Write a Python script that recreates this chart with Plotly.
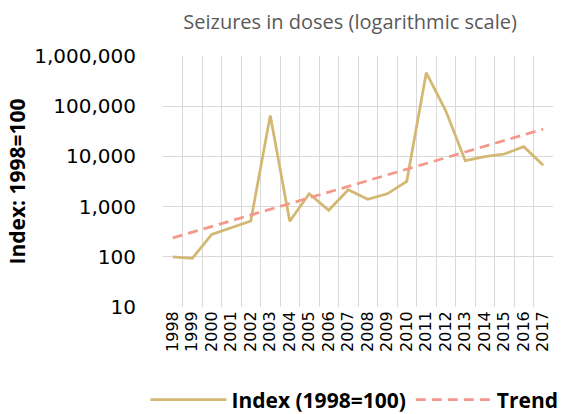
import numpy as np
import plotly.graph_objects as go

# Seizures index by year (1998 = 100)
years = [str(y) for y in range(1998, 2018)]
index_values = [100, 93, 280, 380, 516, 65000, 510, 1800, 845, 2170,
                1400, 1800, 3190, 465000, 81000, 8220, 9880, 11160, 15600, 6650]

# Y-axis ticks (log scale)
y_ticks = [10, 100, 1000, 10000, 100000, 1000000]
y_tick_labels = ["10", "100", "1,000", "10,000", "100,000", "1,000,000"]

# Exponential trend: least-squares fit on log10 of the index
pos = np.arange(len(index_values))
slope, intercept = np.polyfit(pos, np.log10(index_values), 1)
trend_values = 10 ** (intercept + slope * pos)

fig = go.Figure()
fig.add_trace(go.Scatter(
    x=years, y=index_values, mode="lines", name="<b>Index (1998=100)</b>",
    line=dict(color="#D2B872", width=2.75),
))
fig.add_trace(go.Scatter(
    x=years, y=trend_values, mode="lines", name="<b>Trend</b>",
    line=dict(color="#F4988A", width=2.75, dash="10px,6px"),
))

fig.update_layout(
    width=561, height=414,
    margin=dict(l=163, r=8, t=56, b=107, autoexpand=False),
    paper_bgcolor="white", plot_bgcolor="white",
    font=dict(family="Open Sans", color="#000000"),
    title=dict(
        text="Seizures in doses (logarithmic scale)",
        x=0.624, xanchor="center", y=0.947, yanchor="middle",
        font=dict(size=20, color="#595959"),
    ),
    xaxis=dict(
        type="category", tickson="boundaries", ticks="",
        tickmode="array", tickvals=years, ticktext=years,
        showgrid=True, gridcolor="#D9D9D9", gridwidth=1,
        tickangle=-90,
        tickfont=dict(family="DejaVu Sans", size=16, color="#000000"),
        showline=False, zeroline=False, range=[-0.5, 19.5],
        automargin=False,
    ),
    yaxis=dict(
        type="log", range=[1, 6],
        tickvals=y_ticks, ticktext=y_tick_labels,
        showgrid=True, gridcolor="#D9D9D9", gridwidth=1,
        tickfont=dict(family="DejaVu Sans", size=20, color="#000000"), ticks="",
        ticklabelstandoff=26,
        title=dict(text="<b>Index: 1998=100</b>", font=dict(size=21), standoff=2),
        showline=False, zeroline=False,
        automargin=False,
    ),
    legend=dict(
        orientation="h",
        x=-0.045, xanchor="left", y=-0.37, yanchor="middle",
        font=dict(size=21), itemwidth=76, tracegroupgap=0,
        itemclick=False,
    ),
    showlegend=True,
)

fig.write_html("out.html")
